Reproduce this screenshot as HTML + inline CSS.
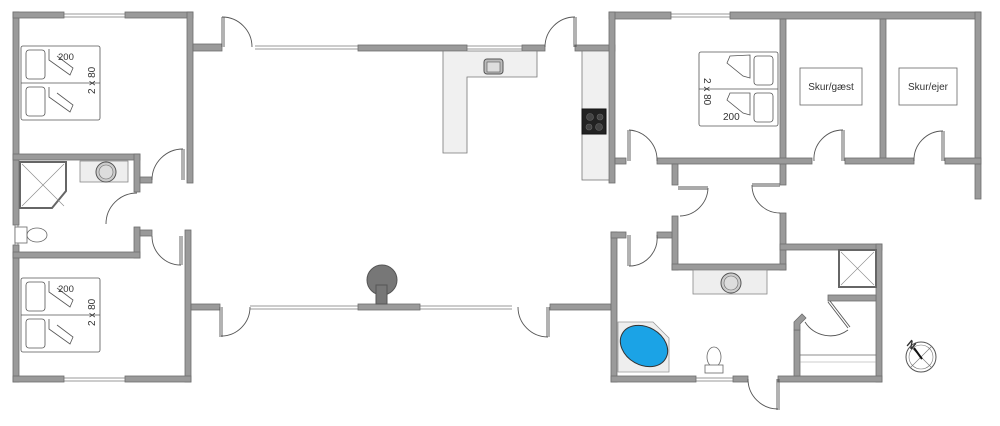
<!DOCTYPE html>
<html><head><meta charset="utf-8"><style>
html,body{margin:0;padding:0;background:#fff;}
svg{display:block;}
text{font-family:"Liberation Sans",Arial,sans-serif;fill:#333;}
</style></head><body>
<svg width="1000" height="426" viewBox="0 0 1000 426" xmlns="http://www.w3.org/2000/svg">
<rect width="1000" height="426" fill="#fff"/>
<g stroke="#999" stroke-width="1" fill="none">
<line x1="64" y1="14" x2="125" y2="14"/><line x1="64" y1="17" x2="125" y2="17"/>
<line x1="64" y1="378" x2="125" y2="378"/><line x1="64" y1="381" x2="125" y2="381"/>
<line x1="255" y1="46" x2="358" y2="46"/><line x1="255" y1="49" x2="358" y2="49"/>
<line x1="467" y1="46" x2="522" y2="46"/><line x1="467" y1="49" x2="522" y2="49"/>
<line x1="250" y1="306" x2="358" y2="306"/><line x1="250" y1="309" x2="358" y2="309"/>
<line x1="420" y1="306" x2="512" y2="306"/><line x1="420" y1="309" x2="512" y2="309"/>
<line x1="671" y1="14" x2="730" y2="14"/><line x1="671" y1="17" x2="730" y2="17"/>
<line x1="696" y1="378" x2="733" y2="378"/><line x1="696" y1="381" x2="733" y2="381"/>
<line x1="15" y1="225" x2="15" y2="245"/><line x1="18" y1="225" x2="18" y2="245"/>
</g>
<g fill="#9a9a9a" stroke="#6e6e6e" stroke-width="0.8">
<rect x="13" y="12" width="6" height="213"/><rect x="13" y="245" width="6" height="137"/>
<rect x="13" y="12" width="51" height="6"/><rect x="125" y="12" width="68" height="6"/>
<rect x="187" y="12" width="6" height="171"/>
<rect x="193" y="44" width="29" height="7"/>
<rect x="13" y="154" width="127" height="6"/>
<rect x="134" y="154" width="6" height="38"/><rect x="134" y="227" width="6" height="31"/>
<rect x="13" y="252" width="127" height="6"/>
<rect x="140" y="177" width="12" height="6"/><rect x="140" y="230" width="12" height="6"/>
<rect x="185" y="230" width="6" height="152"/>
<rect x="191" y="304" width="29" height="6"/>
<rect x="13" y="376" width="51" height="6"/><rect x="125" y="376" width="66" height="6"/>
<rect x="358" y="45" width="109" height="6"/><rect x="522" y="45" width="23" height="6"/>
<rect x="575" y="45" width="40" height="6"/>
<rect x="358" y="304" width="62" height="6"/>
<rect x="550" y="304" width="61" height="6"/>
<rect x="609" y="12" width="62" height="7"/><rect x="730" y="12" width="251" height="7"/>
<rect x="609" y="12" width="6" height="171"/>
<rect x="780" y="19" width="6" height="166"/><rect x="780" y="213" width="6" height="57"/>
<rect x="880" y="19" width="6" height="142"/>
<rect x="975" y="12" width="6" height="187"/>
<rect x="615" y="158" width="11" height="6"/><rect x="657" y="158" width="155" height="6"/>
<rect x="845" y="158" width="69" height="6"/><rect x="945" y="158" width="36" height="6"/>
<rect x="672" y="164" width="6" height="21"/><rect x="672" y="216" width="6" height="54"/>
<rect x="672" y="264" width="114" height="6"/>
<rect x="611" y="232" width="6" height="150"/>
<rect x="611" y="232" width="15" height="6"/><rect x="657" y="232" width="15" height="6"/>
<rect x="780" y="244" width="102" height="6"/>
<rect x="876" y="244" width="6" height="138"/>
<rect x="611" y="376" width="85" height="6"/><rect x="733" y="376" width="15" height="6"/>
<rect x="778" y="376" width="104" height="6"/>
<rect x="828" y="295" width="48" height="6"/>
<rect x="794" y="330" width="6" height="46"/>
</g>
<path d="M794 330 L794 322 L802 314 L806 318 L800 324 L800 330 Z" fill="#9a9a9a" stroke="#6e6e6e" stroke-width="0.8"/>
<g stroke="#555" stroke-width="0.9" fill="none">
<path d="M152 180 A31 31 0 0 1 183 149"/><line x1="182" y1="149" x2="182" y2="180"/><line x1="184" y1="149" x2="184" y2="180"/>
<path d="M106 224 A31 31 0 0 1 137 193"/>
<path d="M181 265 A29 29 0 0 1 152 236"/><line x1="180" y1="236" x2="180" y2="265"/><line x1="182" y1="236" x2="182" y2="265"/>
<path d="M222 17 A30 30 0 0 1 252 47"/><line x1="222" y1="17" x2="222" y2="47"/><line x1="224" y1="17" x2="224" y2="47"/>
<path d="M250 307 A29 29 0 0 1 221 336"/><line x1="220" y1="307" x2="220" y2="337"/><line x1="222" y1="307" x2="222" y2="337"/>
<path d="M545 47 A30 30 0 0 1 575 17"/><line x1="574" y1="17" x2="574" y2="47"/><line x1="576" y1="17" x2="576" y2="47"/>
<path d="M548 337 A30 30 0 0 1 518 307"/><line x1="547" y1="307" x2="547" y2="337"/><line x1="549" y1="307" x2="549" y2="337"/>
<path d="M629 130 A30 30 0 0 1 657 161"/><line x1="628" y1="130" x2="628" y2="161"/><line x1="630" y1="130" x2="630" y2="161"/>
<path d="M814 161 A29 29 0 0 1 843 130"/><line x1="842" y1="130" x2="842" y2="161"/><line x1="844" y1="130" x2="844" y2="161"/>
<path d="M914 161 A29 29 0 0 1 943 131"/><line x1="942" y1="131" x2="942" y2="161"/><line x1="944" y1="131" x2="944" y2="161"/>
<path d="M680 216 A29 29 0 0 0 708 188"/><line x1="678" y1="187" x2="708" y2="187"/><line x1="678" y1="189" x2="708" y2="189"/>
<path d="M752 185 A28 28 0 0 0 780 213"/><line x1="752" y1="184" x2="780" y2="184"/><line x1="752" y1="186" x2="780" y2="186"/>
<path d="M657 235 A28 28 0 0 1 629 266"/><line x1="628" y1="235" x2="628" y2="266"/><line x1="630" y1="235" x2="630" y2="266"/>
<path d="M748 379 A30 30 0 0 0 778 409"/><line x1="777" y1="379" x2="777" y2="410"/><line x1="779" y1="379" x2="779" y2="410"/>
<path d="M805 322 A30 30 0 0 0 848 330"/><line x1="828" y1="302" x2="848" y2="328"/><line x1="830" y1="301" x2="850" y2="327"/>
</g>
<path d="M443 51 H537 V77 H467 V153 H443 Z" fill="#f0f0f0" stroke="#777" stroke-width="0.8"/>
<rect x="484" y="59" width="19" height="15" rx="3" fill="#bbb" stroke="#555"/><rect x="487" y="62" width="13" height="10" fill="#ddd" stroke="#555" stroke-width="0.6"/>
<rect x="582" y="51" width="27" height="129" fill="#f0f0f0" stroke="#777" stroke-width="0.8"/>
<rect x="582" y="109" width="24" height="25" fill="#222" stroke="#111"/>
<g fill="#444" stroke="#666" stroke-width="0.6"><circle cx="590" cy="117" r="3.5"/><circle cx="600" cy="117" r="3"/><circle cx="589" cy="127" r="3"/><circle cx="599" cy="127" r="3.5"/></g>
<circle cx="382" cy="280" r="15" fill="#777" stroke="#555"/>
<rect x="376" y="285" width="11" height="19" fill="#777" stroke="#555"/>
<g fill="#fff" stroke="#555" stroke-width="0.8">
<rect x="21" y="46" width="79" height="74" rx="2"/><line x1="21" y1="83" x2="100" y2="83"/>
<rect x="26" y="50" width="19" height="29" rx="3"/><rect x="26" y="87" width="19" height="29" rx="3"/>
<path d="M49 49 V60 L70 75 L73 68 L57 56"/><path d="M49 87 V97 L70 112 L73 105 L57 93"/>
<rect x="21" y="278" width="79" height="74" rx="2"/><line x1="21" y1="315" x2="100" y2="315"/>
<rect x="26" y="282" width="19" height="29" rx="3"/><rect x="26" y="319" width="19" height="29" rx="3"/>
<path d="M49 281 V292 L70 307 L73 300 L57 288"/><path d="M49 319 V329 L70 344 L73 337 L57 325"/>
<rect x="699" y="52" width="79" height="74" rx="2"/><line x1="699" y1="89" x2="778" y2="89"/>
<rect x="754" y="56" width="19" height="29" rx="3"/><rect x="754" y="93" width="19" height="29" rx="3"/>
<path d="M750 55 V78 L743 76 L727 63 L730 56 Z"/><path d="M750 93 V115 L743 113 L727 100 L730 93 Z"/>
</g>
<text x="58" y="60" font-size="9.5">200</text>
<text x="58" y="292" font-size="9.5">200</text>
<text x="723" y="120" font-size="10">200</text>
<text transform="translate(95,94) rotate(-90)" font-size="10">2 x 80</text>
<text transform="translate(95,326) rotate(-90)" font-size="10">2 x 80</text>
<text transform="translate(704,78) rotate(90)" font-size="10">2 x 80</text>
<rect x="800" y="68" width="62" height="37" fill="#fff" stroke="#666" stroke-width="0.8"/>
<text x="831" y="90" font-size="10" text-anchor="middle">Skur/gæst</text>
<rect x="899" y="68" width="58" height="37" fill="#fff" stroke="#666" stroke-width="0.8"/>
<text x="928" y="90" font-size="10" text-anchor="middle">Skur/ejer</text>
<path d="M20 162 H66 V191 L52 208 H20 Z" fill="#fff" stroke="#666" stroke-width="2"/>
<g stroke="#888" stroke-width="0.6"><line x1="22" y1="164" x2="64" y2="206"/><line x1="64" y1="164" x2="22" y2="206"/></g>
<rect x="80" y="161" width="48" height="21" fill="#eee" stroke="#888" stroke-width="0.8"/>
<circle cx="106" cy="172" r="10" fill="#ccc" stroke="#555"/><circle cx="106" cy="172" r="7" fill="#ddd" stroke="#666" stroke-width="0.6"/>
<rect x="15" y="227" width="12" height="16" fill="#fff" stroke="#666" stroke-width="0.8"/>
<ellipse cx="37" cy="235" rx="10" ry="7" fill="#fff" stroke="#666" stroke-width="0.8"/>
<rect x="693" y="270" width="74" height="24" fill="#eee" stroke="#888" stroke-width="0.8"/>
<circle cx="731" cy="283" r="10" fill="#ccc" stroke="#555"/><circle cx="731" cy="283" r="7" fill="#ddd" stroke="#666" stroke-width="0.6"/>
<rect x="839" y="250" width="37" height="37" fill="#fff" stroke="#666" stroke-width="2"/>
<g stroke="#888" stroke-width="0.6"><line x1="841" y1="252" x2="874" y2="285"/><line x1="874" y1="252" x2="841" y2="285"/></g>
<path d="M618 322 H653 L669 338 V372 H618 Z" fill="#eee" stroke="#999" stroke-width="0.8"/>
<ellipse cx="644" cy="346" rx="25" ry="19" transform="rotate(30 644 346)" fill="#1ba3e6" stroke="#333"/>
<ellipse cx="714" cy="357" rx="7" ry="10" fill="#fff" stroke="#666" stroke-width="0.8"/>
<rect x="705" y="365" width="18" height="8" fill="#fff" stroke="#666" stroke-width="0.8"/>
<line x1="800" y1="355" x2="876" y2="355" stroke="#666" stroke-width="0.8"/>
<line x1="800" y1="362" x2="876" y2="362" stroke="#999" stroke-width="0.6"/>
<circle cx="921" cy="357" r="15" fill="#fff" stroke="#555" stroke-width="1"/>
<circle cx="921" cy="357" r="12" fill="none" stroke="#777" stroke-width="0.6"/>
<line x1="910" y1="346" x2="932" y2="368" stroke="#777" stroke-width="0.6"/>
<line x1="932" y1="346" x2="910" y2="368" stroke="#777" stroke-width="0.6"/>
<line x1="914" y1="348" x2="922" y2="359" stroke="#111" stroke-width="2"/>
<text transform="translate(906,345) rotate(40)" font-size="11" font-weight="bold" fill="#111">N</text>
</svg>
</body></html>
